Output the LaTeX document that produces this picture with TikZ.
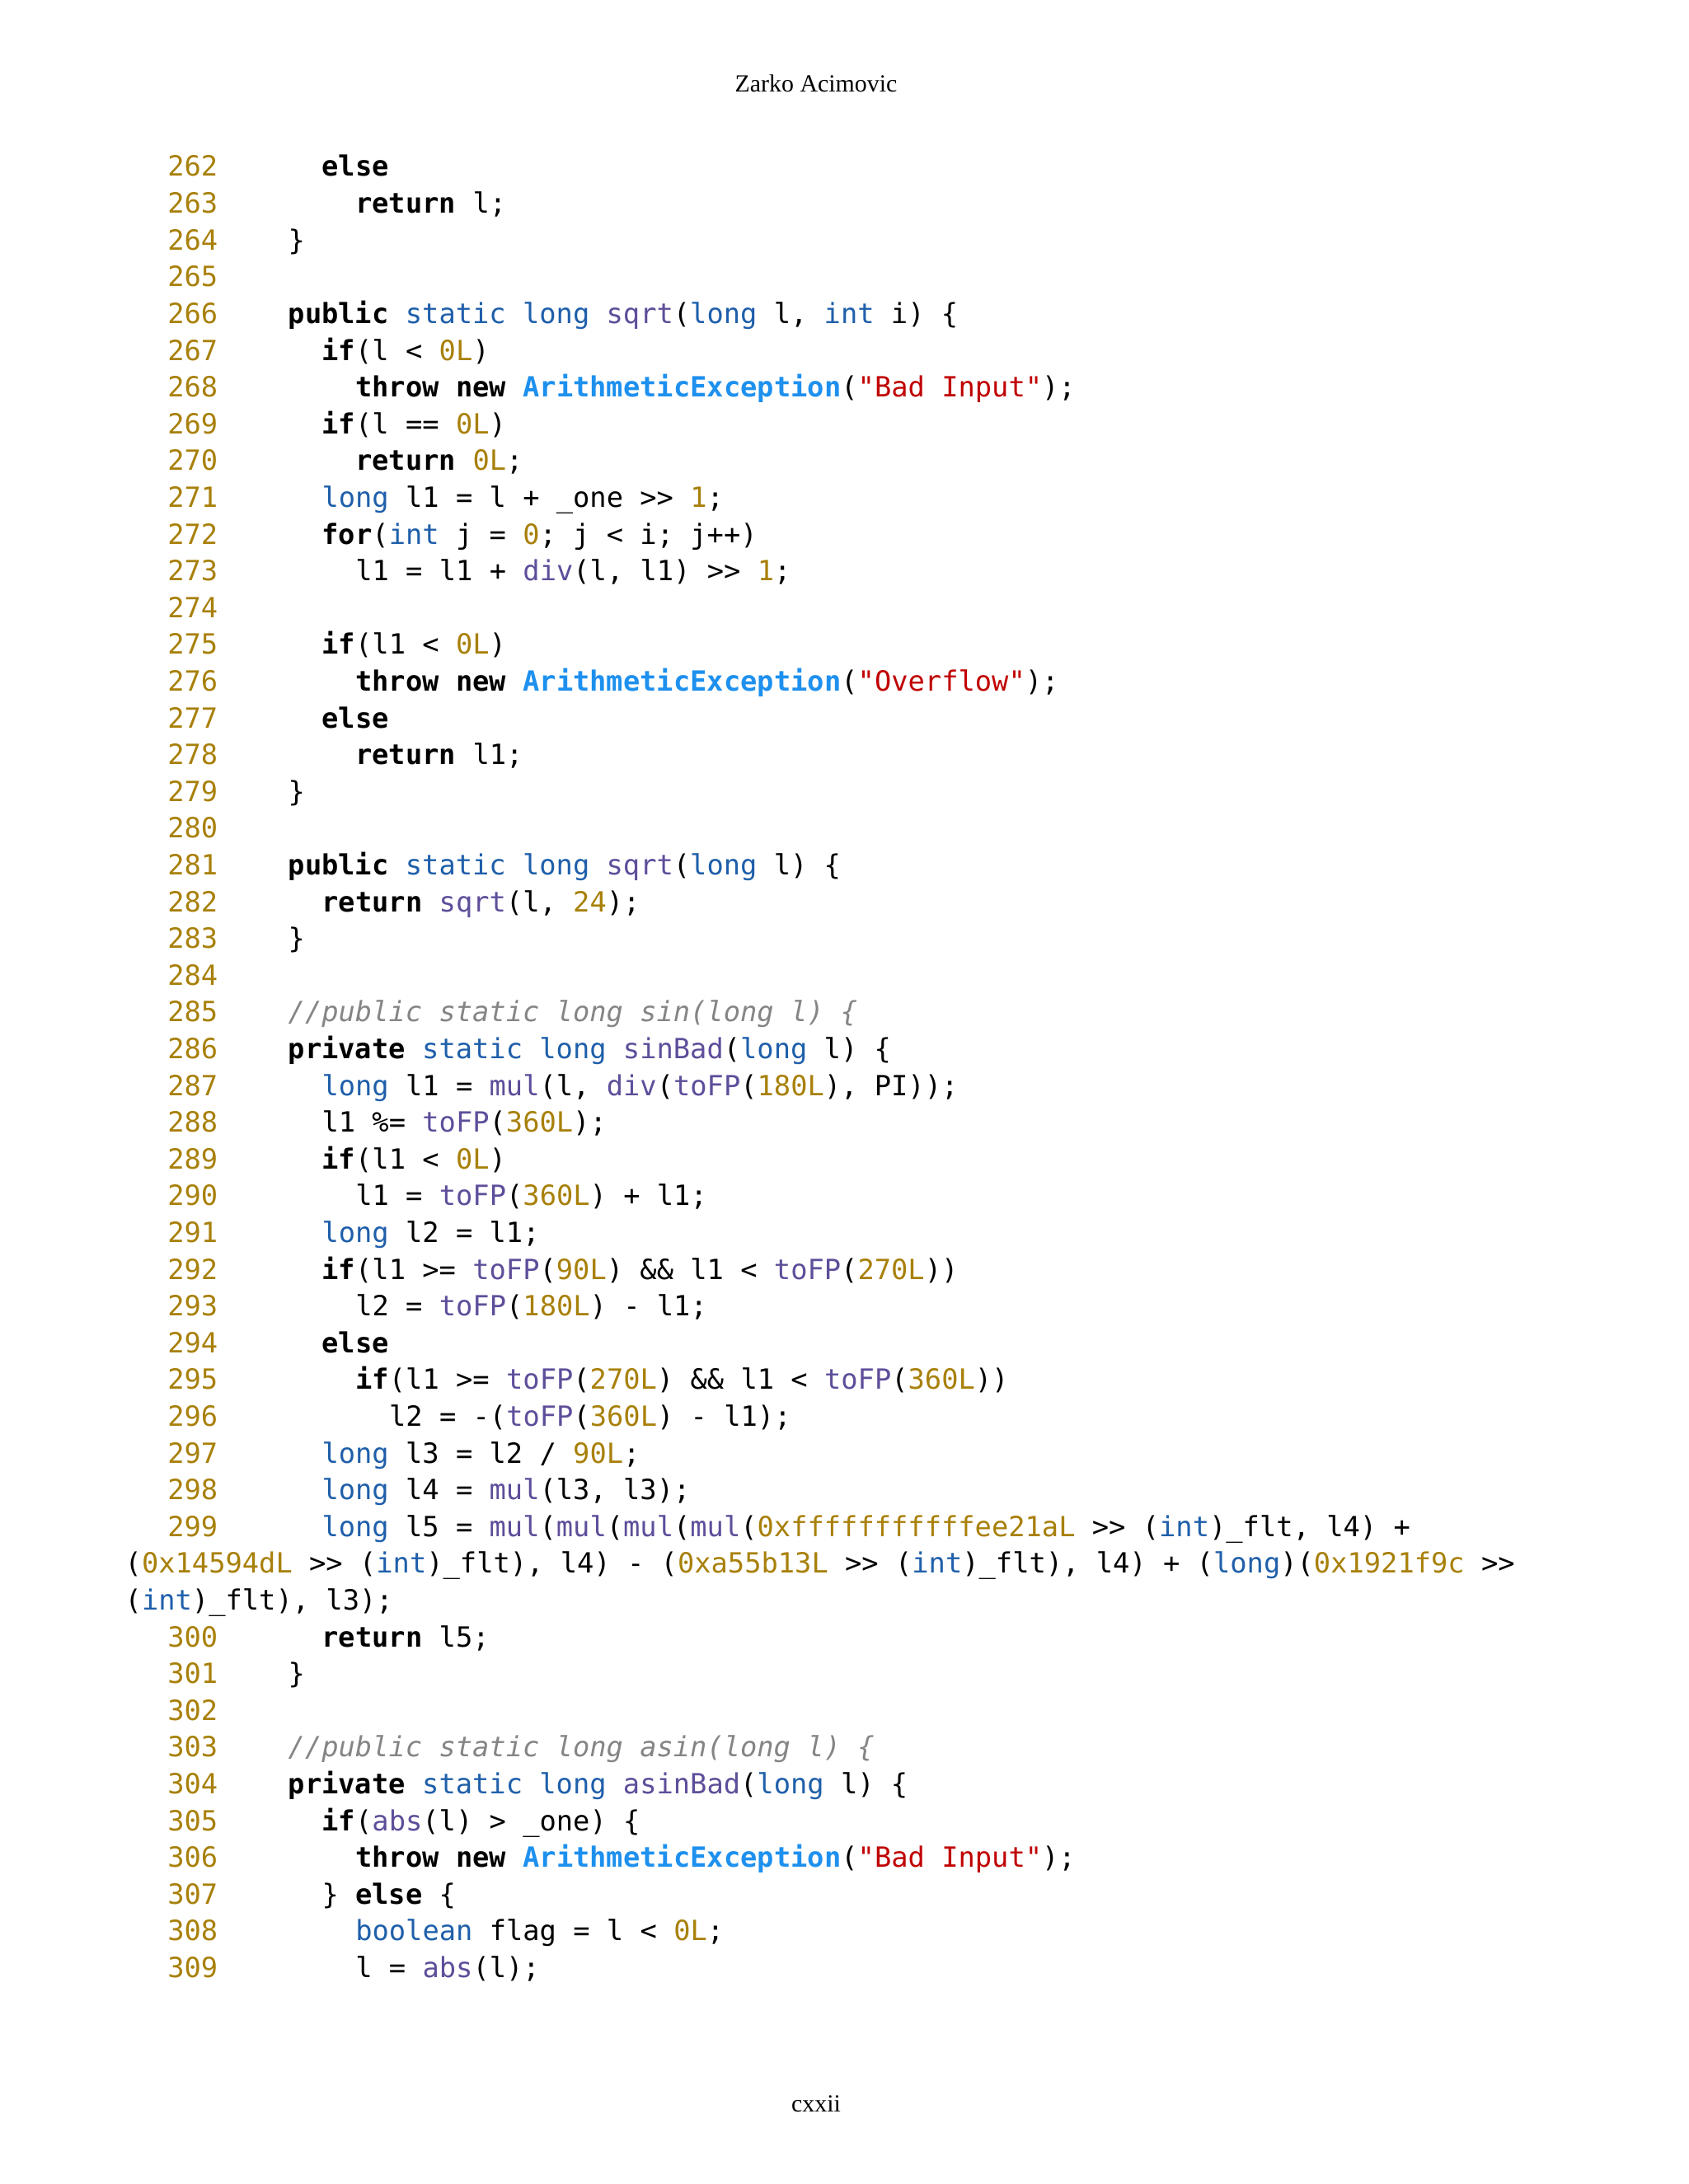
\documentclass[tikz,border=0pt]{standalone}
\usepackage{fontspec}
\setmainfont{Liberation Serif}
\newfontfamily\codefont{DejaVu Sans Mono}
\definecolor{cnum}{HTML}{A8800A}
\definecolor{ctype}{HTML}{1F5FAA}
\definecolor{cfn}{HTML}{5E4E9A}
\definecolor{cex}{HTML}{1E90EE}
\definecolor{cstr}{HTML}{C00000}
\definecolor{ccm}{HTML}{858585}
\newcommand\kw[1]{\textbf{#1}}
\newcommand\ty[1]{\textcolor{ctype}{#1}}
\newcommand\fn[1]{\textcolor{cfn}{#1}}
\newcommand\nm[1]{\textcolor{cnum}{#1}}
\newcommand\ex[1]{\textcolor{cex}{\textbf{#1}}}
\newcommand\str[1]{\textcolor{cstr}{#1}}
\newcommand\cmt[1]{\textcolor{ccm}{\textit{#1}}}
\tikzset{
 numtxt/.style={anchor=base east,inner sep=0pt,text=cnum,font=\codefont\fontsize{9.6pt}{11pt}\selectfont},
 codetxt/.style={anchor=base west,inner sep=0pt,font=\codefont\fontsize{9.6pt}{11pt}\selectfont},
 pagetxt/.style={anchor=base,inner sep=0pt,font=\fontsize{8.5pt}{10pt}\selectfont}
}
\newcommand\codeln[4]{\node[numtxt] (n#2) at (2.65,{-2.14-0.446*#1}) {#2};
 \node[codetxt] (c#2) at ({3.49+0.204*#3},{-2.14-0.446*#1}) {#4};}
\newcommand\codeblank[2]{\node[numtxt] (n#2) at (2.65,{-2.14-0.446*#1}) {#2};}
\newcommand\codewrap[3]{\node[codetxt] (#2) at (1.51,{-2.14-0.446*#1}) {#3};}
\begin{document}
\begin{tikzpicture}[x=1cm,y=1cm]
\useasboundingbox (0,0) rectangle (20.48,-26.5);
\node[pagetxt] (hdr) at (9.9,-1.12) {Zarko Acimovic};
\node[pagetxt] (ftr) at (9.9,-25.62) {cxxii};
\codeln{0}{262}{2}{\kw{else}}
\codeln{1}{263}{4}{\kw{return} l;}
\codeln{2}{264}{0}{\}}
\codeblank{3}{265}
\codeln{4}{266}{0}{\kw{public} \ty{static} \ty{long} \fn{sqrt}(\ty{long} l, \ty{int} i) \{}
\codeln{5}{267}{2}{\kw{if}(l < \nm{0L})}
\codeln{6}{268}{4}{\kw{throw} \kw{new} \ex{ArithmeticException}(\str{"Bad Input"});}
\codeln{7}{269}{2}{\kw{if}(l == \nm{0L})}
\codeln{8}{270}{4}{\kw{return} \nm{0L};}
\codeln{9}{271}{2}{\ty{long} l1 = l + \_one >> \nm{1};}
\codeln{10}{272}{2}{\kw{for}(\ty{int} j = \nm{0}; j < i; j++)}
\codeln{11}{273}{4}{l1 = l1 + \fn{div}(l, l1) >> \nm{1};}
\codeblank{12}{274}
\codeln{13}{275}{2}{\kw{if}(l1 < \nm{0L})}
\codeln{14}{276}{4}{\kw{throw} \kw{new} \ex{ArithmeticException}(\str{"Overflow"});}
\codeln{15}{277}{2}{\kw{else}}
\codeln{16}{278}{4}{\kw{return} l1;}
\codeln{17}{279}{0}{\}}
\codeblank{18}{280}
\codeln{19}{281}{0}{\kw{public} \ty{static} \ty{long} \fn{sqrt}(\ty{long} l) \{}
\codeln{20}{282}{2}{\kw{return} \fn{sqrt}(l, \nm{24});}
\codeln{21}{283}{0}{\}}
\codeblank{22}{284}
\codeln{23}{285}{0}{\cmt{//public static long sin(long l) \{}}
\codeln{24}{286}{0}{\kw{private} \ty{static} \ty{long} \fn{sinBad}(\ty{long} l) \{}
\codeln{25}{287}{2}{\ty{long} l1 = \fn{mul}(l, \fn{div}(\fn{toFP}(\nm{180L}), PI));}
\codeln{26}{288}{2}{l1 \%= \fn{toFP}(\nm{360L});}
\codeln{27}{289}{2}{\kw{if}(l1 < \nm{0L})}
\codeln{28}{290}{4}{l1 = \fn{toFP}(\nm{360L}) + l1;}
\codeln{29}{291}{2}{\ty{long} l2 = l1;}
\codeln{30}{292}{2}{\kw{if}(l1 >= \fn{toFP}(\nm{90L}) \&\& l1 < \fn{toFP}(\nm{270L}))}
\codeln{31}{293}{4}{l2 = \fn{toFP}(\nm{180L}) - l1;}
\codeln{32}{294}{2}{\kw{else}}
\codeln{33}{295}{4}{\kw{if}(l1 >= \fn{toFP}(\nm{270L}) \&\& l1 < \fn{toFP}(\nm{360L}))}
\codeln{34}{296}{6}{l2 = -(\fn{toFP}(\nm{360L}) - l1);}
\codeln{35}{297}{2}{\ty{long} l3 = l2 / \nm{90L};}
\codeln{36}{298}{2}{\ty{long} l4 = \fn{mul}(l3, l3);}
\codeln{37}{299}{2}{\ty{long} l5 = \fn{mul}(\fn{mul}(\fn{mul}(\fn{mul}(\nm{0xfffffffffffee21aL} >> (\ty{int})\_flt, l4) +}
\codewrap{38}{w1}{(\nm{0x14594dL} >> (\ty{int})\_flt), l4) - (\nm{0xa55b13L} >> (\ty{int})\_flt), l4) + (\ty{long})(\nm{0x1921f9c} >>}
\codewrap{39}{w2}{(\ty{int})\_flt), l3);}
\codeln{40}{300}{2}{\kw{return} l5;}
\codeln{41}{301}{0}{\}}
\codeblank{42}{302}
\codeln{43}{303}{0}{\cmt{//public static long asin(long l) \{}}
\codeln{44}{304}{0}{\kw{private} \ty{static} \ty{long} \fn{asinBad}(\ty{long} l) \{}
\codeln{45}{305}{2}{\kw{if}(\fn{abs}(l) > \_one) \{}
\codeln{46}{306}{4}{\kw{throw} \kw{new} \ex{ArithmeticException}(\str{"Bad Input"});}
\codeln{47}{307}{2}{\} \kw{else} \{}
\codeln{48}{308}{4}{\ty{boolean} flag = l < \nm{0L};}
\codeln{49}{309}{4}{l = \fn{abs}(l);}
\end{tikzpicture}
\end{document}
